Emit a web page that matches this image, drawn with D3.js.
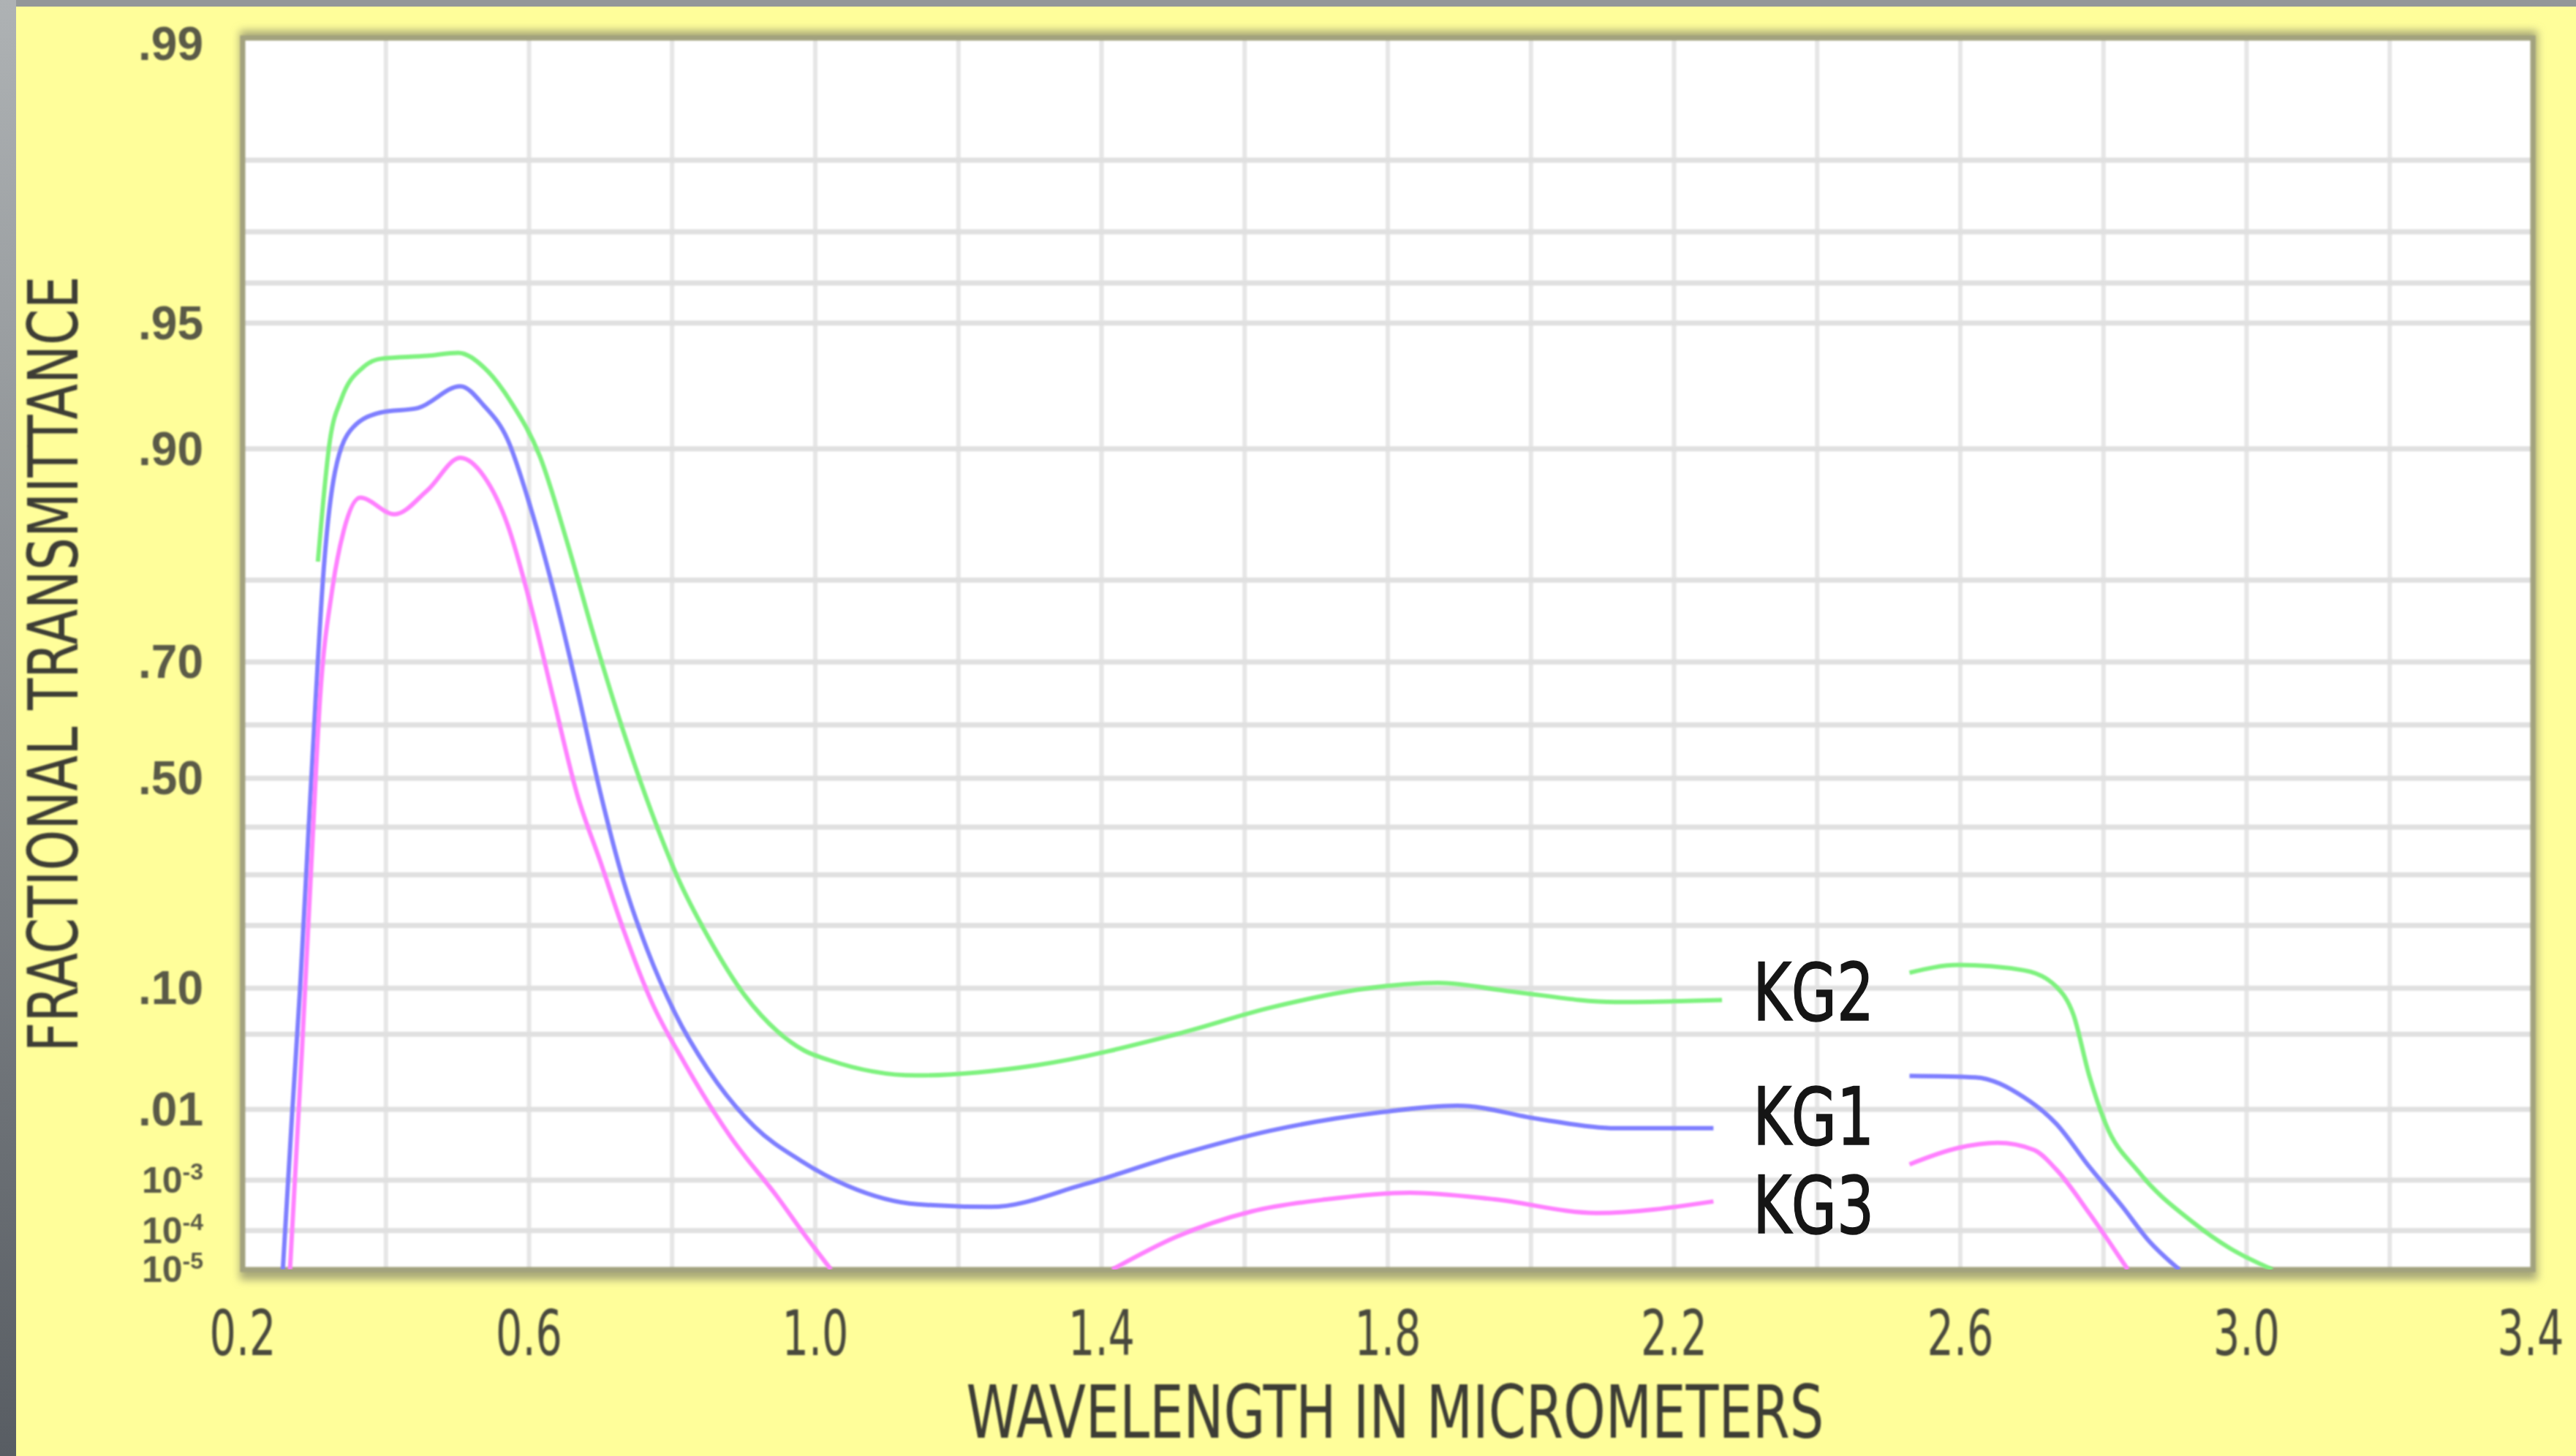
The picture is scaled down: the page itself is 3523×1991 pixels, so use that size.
<!DOCTYPE html>
<html>
<head>
<meta charset="utf-8">
<script src="https://cdn.jsdelivr.net/npm/d3@7"></script>
<style>
  html, body { margin: 0; padding: 0; background: #fffe9a; }
  svg { display: block; }
</style>
</head>
<body>
<svg id="chart" width="3523" height="1991"></svg>
<script>
// wavelength (micrometers) ticks and grid
const wavelengthTicks = [0.2, 0.6, 1.0, 1.4, 1.8, 2.2, 2.6, 3.0, 3.4];
const wavelengthGrid = [0.4, 0.6, 0.8, 1.0, 1.2, 1.4, 1.6, 1.8, 2.0, 2.2, 2.4, 2.6, 2.8, 3.0, 3.2];

// transmittance ticks (labelled) and grid lines
const transmittanceTicks = [0.99, 0.95, 0.90, 0.70, 0.50, 0.10, 0.01, 1e-3, 1e-4, 1e-5];
const transmittanceGrid = [0.98, 0.97, 0.96, 0.95, 0.90, 0.80, 0.70, 0.60, 0.50, 0.40, 0.30, 0.20, 0.10, 0.05, 0.01, 1e-3, 1e-4];

// [wavelength, transmittance], null = break in the curve
const kg2 = [
  [0.305, 0.818], [0.322, 0.905], [0.338, 0.924], [0.368, 0.936], [0.393, 0.939], [0.458, 0.940],
  [0.501, 0.941], [0.537, 0.936], [0.576, 0.922], [0.615, 0.896], [0.654, 0.834], [0.693, 0.728],
  [0.732, 0.588], [0.771, 0.432], [0.810, 0.287], [0.850, 0.180], [0.902, 0.090], [0.947, 0.0525],
  [0.984, 0.0374], [1.019, 0.031], [1.141, 0.0225], [1.310, 0.028], [1.505, 0.050], [1.636, 0.0762],
  [1.766, 0.099], [1.870, 0.107], [1.974, 0.0955], [2.118, 0.0826], [2.267, 0.085],
  null,
  [2.529, 0.1215], [2.597, 0.133], [2.689, 0.125], [2.734, 0.102], [2.758, 0.0686], [2.780, 0.0226],
  [2.803, 0.00674], [2.849, 0.00139], [2.925, 1.53e-4], [2.976, 3.8e-5], [3.036, 1e-5]
];
const kg1 = [
  [0.256, 1e-5], [0.269, 0.0089], [0.280, 0.098], [0.292, 0.395], [0.302, 0.645], [0.312, 0.80],
  [0.329, 0.887], [0.354, 0.911], [0.393, 0.918], [0.445, 0.920], [0.504, 0.929], [0.537, 0.921],
  [0.570, 0.905], [0.601, 0.865], [0.634, 0.790], [0.667, 0.661], [0.700, 0.469], [0.732, 0.287],
  [0.765, 0.158], [0.804, 0.0702], [0.850, 0.0256], [0.915, 0.0062], [0.979, 0.0021], [1.045, 8e-4],
  [1.143, 3.6e-4], [1.245, 3.2e-4], [1.376, 8.5e-4], [1.505, 0.0025], [1.636, 0.0055], [1.792, 0.0093],
  [1.897, 0.011], [2.014, 0.0076], [2.118, 0.0059], [2.255, 0.0059],
  null,
  [2.529, 0.0223], [2.621, 0.0216], [2.689, 0.01355], [2.734, 0.00674], [2.780, 0.00168], [2.826, 3.3e-4],
  [2.862, 6.1e-5], [2.906, 1e-5]
];
const kg3 = [
  [0.266, 1e-5], [0.283, 0.04], [0.296, 0.326], [0.308, 0.645], [0.325, 0.79], [0.341, 0.845],
  [0.364, 0.870], [0.412, 0.858], [0.458, 0.875], [0.504, 0.895], [0.537, 0.884], [0.570, 0.850],
  [0.601, 0.777], [0.634, 0.645], [0.667, 0.469], [0.700, 0.326], [0.732, 0.192], [0.771, 0.0834],
  [0.817, 0.0294], [0.882, 0.0045], [0.947, 5e-4], [0.985, 8e-5], [1.022, 1e-5],
  null,
  [1.415, 1e-5], [1.505, 7.2e-5], [1.610, 2.6e-4], [1.714, 4.5e-4], [1.831, 6e-4], [1.949, 4.5e-4],
  [2.092, 2.4e-4], [2.255, 4.1e-4],
  null,
  [2.529, 0.00182], [2.597, 0.0032], [2.652, 0.00377], [2.703, 0.003], [2.734, 0.00151], [2.780, 2.4e-4],
  [2.808, 5.4e-5], [2.834, 1e-5]
];

const seriesNames = ["KG2", "KG1", "KG3"];
const seriesData = [kg2, kg1, kg3];
const seriesColors = ["#7ef27e", "#7e7eff", "#ff80ff"];
// where each curve label sits (wavelength, transmittance at baseline)
const labelWavelength = [2.31, 2.31, 2.31];
const labelTransmittance = [0.063, 0.0036, 8.7e-5];

const svg = d3.select("#chart");
const W = 3523, H = 1991;
const plot = { left: 332, right: 3464, top: 52, bottom: 1736 };
const narrow = "'Liberation Sans Narrow', 'DejaVu Sans Condensed', sans-serif";

// background + grey window edges
const defs = svg.append("defs");
const grad = defs.append("linearGradient").attr("id", "edge").attr("x1", 0).attr("y1", 0).attr("x2", 0).attr("y2", 1);
grad.append("stop").attr("offset", "0%").attr("stop-color", "#aeb2b4");
grad.append("stop").attr("offset", "100%").attr("stop-color", "#585d63");
defs.append("filter").attr("id", "shadow").attr("x", "-5%").attr("y", "-5%").attr("width", "110%").attr("height", "110%")
  .append("feGaussianBlur").attr("stdDeviation", 6);
defs.append("filter").attr("id", "soft")
  .append("feGaussianBlur").attr("stdDeviation", 1.3);
defs.append("clipPath").attr("id", "clip")
  .append("rect").attr("x", plot.left).attr("y", plot.top)
  .attr("width", plot.right - plot.left).attr("height", plot.bottom - plot.top);

svg.append("rect").attr("width", W).attr("height", H).attr("fill", "#fffe9a");
svg.append("rect").attr("width", W).attr("height", 9).attr("fill", "#939799");
svg.append("rect").attr("y", 0).attr("width", 22).attr("height", H).attr("fill", "url(#edge)");

// scales
const x = d3.scaleLinear().domain([0.2, 3.4]).range([plot.left, plot.right]);
const fT = t => Math.log10(-Math.log10(t));
const yLin = d3.scaleLinear().domain([fT(0.99), fT(1e-5)]).range([plot.top, plot.bottom]);
const y = t => yLin(fT(t));

// plot panel with shadow
svg.append("rect")
  .attr("x", plot.left - 4).attr("y", plot.top - 10)
  .attr("width", plot.right - plot.left + 10).attr("height", plot.bottom - plot.top + 24)
  .attr("fill", "#a8a878").attr("filter", "url(#shadow)");
svg.append("rect")
  .attr("x", plot.left).attr("y", plot.top)
  .attr("width", plot.right - plot.left).attr("height", plot.bottom - plot.top)
  .attr("fill", "#ffffff");

// grid
const grid = svg.append("g").attr("filter", "url(#soft)");
grid.selectAll("line.v").data(wavelengthGrid).enter().append("line")
  .attr("class", "v")
  .attr("x1", d => x(d)).attr("x2", d => x(d))
  .attr("y1", plot.top).attr("y2", plot.bottom)
  .attr("stroke", "#e6e6e6").attr("stroke-width", 6);
grid.selectAll("line.h").data(transmittanceGrid).enter().append("line")
  .attr("class", "h")
  .attr("x1", plot.left).attr("x2", plot.right)
  .attr("y1", d => y(d)).attr("y2", d => y(d))
  .attr("stroke", "#e0e0e0").attr("stroke-width", 7);

// border
svg.append("rect")
  .attr("x", plot.left).attr("y", plot.top)
  .attr("width", plot.right - plot.left).attr("height", plot.bottom - plot.top)
  .attr("fill", "none").attr("stroke", "#a2a27e").attr("stroke-width", 7)
  .attr("filter", "url(#soft)");

// curves
const line = d3.line()
  .defined(d => d !== null)
  .x(d => x(d[0]))
  .y(d => y(d[1]))
  .curve(d3.curveMonotoneX);

const curves = svg.append("g").attr("clip-path", "url(#clip)").append("g").attr("filter", "url(#soft)");
curves.selectAll("path")
  .data(seriesData)
  .enter().append("path")
  .attr("d", line)
  .attr("fill", "none")
  .attr("stroke", (d, i) => seriesColors[i])
  .attr("stroke-width", 6)
  .attr("stroke-linejoin", "round");

// curve labels
svg.append("g").selectAll("text")
  .data(seriesNames)
  .enter().append("text")
  .attr("x", (d, i) => x(labelWavelength[i]))
  .attr("y", (d, i) => y(labelTransmittance[i]))
  .attr("font-family", narrow)
  .attr("font-size", 108)
  .attr("textLength", 166).attr("lengthAdjust", "spacingAndGlyphs")
  .attr("fill", "#151515")
  .attr("stroke", "#151515").attr("stroke-width", 1.5)
  .text(d => d);

// x tick labels, squeezed horizontally (last one kept inside the window)
svg.append("g").selectAll("text")
  .data(wavelengthTicks)
  .enter().append("text")
  .attr("transform", d => `translate(${Math.min(x(d), W - 62)},1853) scale(0.74,1)`)
  .attr("text-anchor", "middle")
  .attr("font-family", narrow)
  .attr("font-size", 86)
  .attr("fill", "#48483c")
  .attr("filter", "url(#soft)")
  .text(d => d.toFixed(1));

// y tick labels
const yLabels = svg.append("g")
  .attr("font-family", "'Liberation Sans', Arial, sans-serif")
  .attr("font-weight", "bold")
  .attr("fill", "#5a5a46")
  .attr("filter", "url(#soft)");
transmittanceTicks.forEach(t => {
  const small = t < 0.01;
  const ty = Math.max(y(t), plot.top + 8) + (small ? 17 : 22);
  const txt = yLabels.append("text")
    .attr("x", 278).attr("y", ty)
    .attr("text-anchor", "end")
    .attr("font-size", small ? 50 : 64);
  if (!small) {
    txt.text(d3.format(".2f")(t).replace(/^0/, ""));
  } else {
    const exp = Math.round(Math.log10(t));
    txt.append("tspan").text("10");
    txt.append("tspan").attr("font-size", 32).attr("dy", -18).text(exp);
  }
});

// axis titles
svg.append("text")
  .attr("x", 1908).attr("y", 1966)
  .attr("text-anchor", "middle")
  .attr("font-family", narrow)
  .attr("font-size", 100)
  .attr("fill", "#3c3c34")
  .attr("textLength", 1173).attr("lengthAdjust", "spacingAndGlyphs")
  .attr("filter", "url(#soft)")
  .text("WAVELENGTH  IN  MICROMETERS");

svg.append("text")
  .attr("transform", "translate(106,908) rotate(-90)")
  .attr("text-anchor", "middle")
  .attr("font-family", narrow)
  .attr("font-size", 94)
  .attr("fill", "#3c3c34")
  .attr("textLength", 1061).attr("lengthAdjust", "spacingAndGlyphs")
  .attr("filter", "url(#soft)")
  .text("FRACTIONAL  TRANSMITTANCE");
</script>
</body>
</html>
